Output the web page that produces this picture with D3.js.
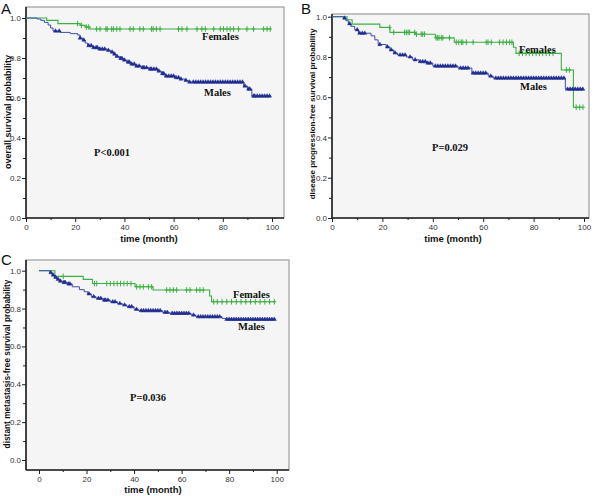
<!DOCTYPE html>
<html><head><meta charset="utf-8">
<script src="https://cdn.jsdelivr.net/npm/d3@7"></script>
<style>body{margin:0;background:#fff}svg{display:block}</style>
</head><body>
<svg id="c" width="600" height="496"></svg>
<script>
// ---- shared tick labels ----
const timeTicks = [0, 20, 40, 60, 80, 100];
const timeMinor = [10, 30, 50, 70, 90];
const probTicks = [0, 0.2, 0.4, 0.6, 0.8, 1.0];
const probMinor = [0.1, 0.3, 0.5, 0.7, 0.9];
const groups = ["Females", "Males"];

// ---- Panel A: overall survival ----
const A_femTimes = [8.4, 13, 22, 24, 26];
const A_femSurv  = [0.988, 0.972, 0.963, 0.955, 0.945];
const A_femCens  = [21, 22.5, 24.5, 25.5, 28.7, 30.1, 32.5, 33, 34.8, 35.5, 36.9, 38.2, 42.3, 43.6, 46.3, 47.7, 51, 51.7, 53, 54.5, 62, 63.4, 65.4, 69.5, 71.5, 72.9, 76.3, 79, 80.3, 81.7, 83, 84.4, 86.4, 89.8, 92.5, 96.6, 98, 99.3];
const A_malTimes = [4.5, 6, 7.5, 9, 10, 11, 14, 18, 21, 22, 23, 24, 25, 27, 30, 33, 34.5, 35.5, 36.5, 38, 39.5, 41, 42.5, 44.5, 47, 50, 53.5, 55, 56.5, 60.5, 62.5, 64.5, 66, 88.5, 90, 91.8];
const A_malSurv  = [0.995, 0.988, 0.978, 0.965, 0.95, 0.935, 0.928, 0.922, 0.915, 0.9, 0.89, 0.875, 0.862, 0.852, 0.845, 0.838, 0.83, 0.82, 0.808, 0.798, 0.79, 0.78, 0.77, 0.76, 0.752, 0.745, 0.735, 0.722, 0.71, 0.702, 0.695, 0.688, 0.68, 0.66, 0.645, 0.61];
const A_malCens  = [12, 13.5, 22, 23.5, 25.5, 26.5, 27.5, 28.5, 29, 30, 31, 32, 33.5, 35, 36, 37, 38.5, 39, 40, 41.5, 42, 43, 44, 45, 46, 47.5, 48, 49, 50.5, 51, 52, 53, 54, 55.5, 56, 57, 58, 59, 60, 61, 62, 63, 65, 66.5, 68, 69, 70, 71, 72, 73, 74, 75, 76, 77, 78, 79, 80, 81, 82, 83, 84, 85, 86, 87, 88, 89, 90.5, 91, 92.5, 93, 94, 95, 96, 97, 98, 99];

// ---- Panel B: disease progression-free survival ----
const B_femTimes = [6, 8, 19, 23, 33, 41, 48.5, 72, 73, 91, 95.8];
const B_femSurv  = [0.985, 0.963, 0.947, 0.922, 0.913, 0.895, 0.873, 0.848, 0.818, 0.735, 0.55];
const B_femCens  = [22.9, 24.5, 28.8, 29.5, 30.2, 30.8, 32.8, 33.5, 35.4, 36, 36.7, 41.3, 41.9, 42.5, 43.4, 44, 46.6, 49.3, 50.3, 51.3, 51.9, 53.3, 56, 61.2, 61.9, 63.2, 66.5, 67.9, 69.2, 70.5, 71.4, 74.3, 75.6, 77, 78.3, 79.6, 81, 82.3, 83.6, 85, 86.3, 87.7, 93, 94.2, 96.9, 98.3, 99.6];
const B_malTimes = [4.5, 5.5, 6.5, 7.5, 9, 10.5, 15.5, 17, 18.3, 21.5, 23, 24.5, 26, 29.5, 32, 34.5, 37.5, 40, 50, 55.5, 62, 64, 92.6];
const B_malSurv  = [0.993, 0.98, 0.965, 0.952, 0.935, 0.918, 0.905, 0.885, 0.862, 0.85, 0.835, 0.82, 0.81, 0.8, 0.786, 0.777, 0.77, 0.755, 0.745, 0.72, 0.705, 0.695, 0.64];
const B_malCens  = [5, 7, 10, 11, 12, 13, 19, 22, 23.5, 25, 27, 28, 29, 31, 33, 35, 36, 37, 38, 39, 41, 42, 43, 44, 45, 46, 47, 48, 49, 51, 52, 53, 54, 56, 57, 58, 59, 60, 61, 63, 65, 66, 67, 68, 69, 70, 71, 72, 73, 74, 75, 76, 77, 78, 79, 80, 81, 82, 83, 84, 85, 86, 87, 88, 89, 90, 91, 92, 93.5, 94.5, 95.5, 96.5, 97.5, 98.5, 99.5];

// ---- Panel C: distant metastasis-free survival ----
const C_femTimes = [6.7, 18.6, 22.5, 40.4, 48, 71.8, 72.6];
const C_femSurv  = [0.97, 0.954, 0.932, 0.915, 0.898, 0.866, 0.836];
const C_femCens  = [10.2, 23.3, 24.3, 28.5, 30, 31.5, 32.9, 34.3, 35.7, 37.1, 38.7, 41.1, 42.5, 43.9, 46, 47.4, 53.7, 55.1, 56.5, 57.9, 62.1, 63.5, 66.3, 67.7, 69.1, 73.5, 75, 77, 79, 81, 83, 85, 87, 89, 91, 93, 95, 97, 99];
const C_malTimes = [4.5, 5.5, 6.5, 7.5, 8.5, 10, 12, 14, 17, 19, 20.5, 22, 24, 27, 30, 33, 35, 37, 40, 42, 52, 55, 64, 66, 77, 78.5];
const C_malSurv  = [0.99, 0.977, 0.965, 0.955, 0.945, 0.938, 0.93, 0.915, 0.9, 0.889, 0.878, 0.863, 0.854, 0.845, 0.836, 0.827, 0.819, 0.81, 0.796, 0.789, 0.78, 0.775, 0.766, 0.757, 0.748, 0.743];
const C_malCens  = [5, 6, 7, 8, 9, 10.5, 11, 12.5, 13, 21, 23, 25, 26, 27.5, 28, 29, 31, 32, 34, 36, 38, 39, 41, 43, 44, 45, 46, 47, 48, 49, 50, 51, 53, 54, 56, 57, 58, 59, 60, 61, 62, 63, 65, 67, 68, 69, 70, 71, 72, 73, 74, 75, 76, 79, 80, 81, 82, 83, 84, 85, 86, 87, 88, 89, 90, 91, 92, 93, 94, 95, 96, 97, 98, 99];

const endTime = 99.5;
const colFem = "#3cb043", colMalLine = "#3d4fb0", colMalMark = "#1f2d8f";

const svg = d3.select("#c");

const panels = [
  { letter: "A", lx: 1, ly: 14, frame: [26, 284, 7, 218], xr: [26, 272], yr: [218, 18],
    ytitle: "overall survival probability", yfs: 9, ytx: 8, yty: 112, xtx: 149, xty: 242,
    fem: [A_femTimes, A_femSurv, A_femCens], mal: [A_malTimes, A_malSurv, A_malCens],
    p: "P<0.001", pos: { f: [202, 40], m: [204, 96], p: [94, 156] } },
  { letter: "B", lx: 301, ly: 14, frame: [332, 589, 14, 218], xr: [332, 584], yr: [218, 16.7],
    ytitle: "disease progression-free survival probability", yfs: 8, ytx: 312, yty: 114, xtx: 453, xty: 242,
    fem: [B_femTimes, B_femSurv, B_femCens], mal: [B_malTimes, B_malSurv, B_malCens],
    p: "P=0.029", pos: { f: [519, 53], m: [520, 90], p: [432, 151] } },
  { letter: "C", lx: 1, ly: 265, frame: [26, 289, 260, 470], xr: [39, 276.7], yr: [460, 270.7],
    ytitle: "distant metastasis-free survival probability", yfs: 8.3, ytx: 7, yty: 364, xtx: 153, xty: 493,
    fem: [C_femTimes, C_femSurv, C_femCens], mal: [C_malTimes, C_malSurv, C_malCens],
    p: "P=0.036", pos: { f: [233, 298], m: [238, 330], p: [130, 401] } }
];

function survAt(times, surv, t) {
  let s = 1;
  for (let i = 0; i < times.length; i++) if (times[i] <= t) s = surv[i];
  return s;
}

panels.forEach(P => {
  const [fl, fr, ft, fb] = P.frame;
  const g = svg.append("g");
  const x = d3.scaleLinear().domain([0, 100]).range(P.xr);
  const y = d3.scaleLinear().domain([0, 1]).range(P.yr);

  g.append("rect").attr("x", fl).attr("y", ft).attr("width", fr - fl).attr("height", fb - ft)
    .attr("fill", "#f5f5f5").attr("stroke", "#8a8a8a").attr("stroke-width", 1);

  // axes
  const ax = g.append("g").attr("transform", `translate(0,${fb})`)
    .call(d3.axisBottom(x).tickValues(timeTicks).tickFormat(d3.format("d")).tickSize(4).tickPadding(2));
  const axm = g.append("g").attr("transform", `translate(0,${fb})`)
    .call(d3.axisBottom(x).tickValues(timeMinor).tickFormat("").tickSize(2));
  const ay = g.append("g").attr("transform", `translate(${fl},0)`)
    .call(d3.axisLeft(y).tickValues(probTicks).tickFormat(d3.format(".1f")).tickSize(4).tickPadding(1));
  const aym = g.append("g").attr("transform", `translate(${fl},0)`)
    .call(d3.axisLeft(y).tickValues(probMinor).tickFormat("").tickSize(3));
  [ax, axm, ay, aym].forEach(a => {
    a.select(".domain").remove();
    a.selectAll("line").attr("stroke", "#222");
    a.selectAll("text").attr("font-family", "Liberation Sans, Arial, sans-serif").attr("font-size", 8).attr("fill", "#333");
  });
  g.append("line").attr("x1", fl).attr("x2", fr).attr("y1", fb).attr("y2", fb).attr("stroke", "#222").attr("stroke-width", 1.6);
  g.append("line").attr("x1", fl).attr("x2", fl).attr("y1", ft).attr("y2", fb).attr("stroke", "#222").attr("stroke-width", 1.6);

  const stepLine = d3.line().x(d => x(d[0])).y(d => y(d[1])).curve(d3.curveStepAfter);
  function pts(times, surv) {
    const a = [[0, 1]];
    times.forEach((t, i) => a.push([t, surv[i]]));
    a.push([endTime, surv[surv.length - 1]]);
    return a;
  }
  // Females
  g.append("path").attr("d", stepLine(pts(P.fem[0], P.fem[1]))).attr("fill", "none")
    .attr("stroke", colFem).attr("stroke-width", 1.1);
  g.selectAll(".fc").data(P.fem[2]).join("path")
    .attr("transform", d => `translate(${x(d)},${y(survAt(P.fem[0], P.fem[1], d))})`)
    .attr("d", "M0,-2.8V2.8M-1.8,0H1.8").attr("stroke", colFem).attr("stroke-width", 1).attr("fill", "none");
  // Males
  g.append("path").attr("d", stepLine(pts(P.mal[0], P.mal[1]))).attr("fill", "none")
    .attr("stroke", colMalLine).attr("stroke-width", 1);
  g.selectAll(".mc").data(P.mal[2]).join("path")
    .attr("transform", d => `translate(${x(d)},${y(survAt(P.mal[0], P.mal[1], d))})`)
    .attr("d", d3.symbol().type(d3.symbolTriangle).size(7)).attr("fill", colMalMark)
    .attr("stroke", colMalMark).attr("stroke-width", 0.5);

  // annotations
  const serif = "Liberation Serif, Times New Roman, serif";
  g.append("text").attr("x", P.pos.f[0]).attr("y", P.pos.f[1]).text(groups[0])
    .attr("font-family", serif).attr("font-weight", "bold").attr("font-size", 10.5).attr("fill", "#111");
  g.append("text").attr("x", P.pos.m[0]).attr("y", P.pos.m[1]).text(groups[1])
    .attr("font-family", serif).attr("font-weight", "bold").attr("font-size", 10.5).attr("fill", "#111");
  g.append("text").attr("x", P.pos.p[0]).attr("y", P.pos.p[1]).text(P.p)
    .attr("font-family", serif).attr("font-weight", "bold").attr("font-size", 10.5).attr("fill", "#111");

  // titles
  g.append("text").attr("transform", `translate(${P.ytx},${P.yty}) rotate(-90)`).attr("text-anchor", "middle")
    .attr("dominant-baseline", "central").text(P.ytitle)
    .attr("font-family", "Liberation Sans, Arial, sans-serif").attr("font-weight", "bold").attr("font-size", P.yfs).attr("fill", "#111");
  g.append("text").attr("x", P.xtx).attr("y", P.xty).attr("text-anchor", "middle").text("time (month)")
    .attr("font-family", "Liberation Sans, Arial, sans-serif").attr("font-weight", "bold").attr("font-size", 9.5).attr("fill", "#111");
  g.append("text").attr("x", P.lx).attr("y", P.ly).text(P.letter)
    .attr("font-family", "Liberation Sans, Arial, sans-serif").attr("font-size", 15).attr("fill", "#111");
});
</script>
</body></html>
